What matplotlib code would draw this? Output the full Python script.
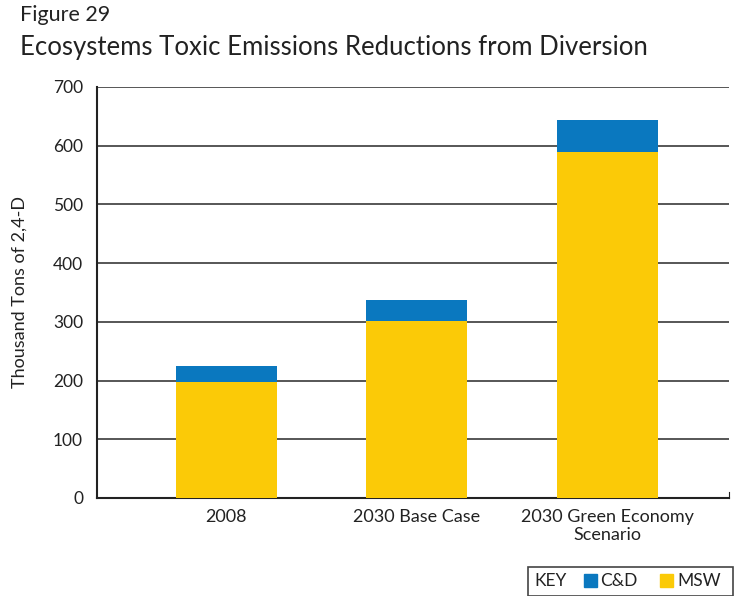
import matplotlib
matplotlib.use("Agg")
import matplotlib.pyplot as plt
from matplotlib.patches import Rectangle
import numpy as np

categories = ["2008", "2030 Base Case", "2030 Green Economy\nScenario"]
msw = [198, 302, 589]
cd = [27, 35, 55]
yticks = [0, 100, 200, 300, 400, 500, 600, 700]

BLUE = "#0A78BF"
YELLOW = "#FBCA07"
plt.rcParams['font.family'] = ['Lato', 'DejaVu Sans']

fig = plt.figure(figsize=(7.4, 5.96), dpi=100)
ax = fig.add_axes([97/740, 1-498/596, (729-97)/740, (498-87)/596])

x = np.arange(len(categories))
w = 0.53
ax.bar(x, msw, width=w, color=YELLOW, zorder=3)
ax.bar(x, cd, bottom=msw, width=w, color=BLUE, zorder=3)

ax.set_xlim(-0.68, 2.64)
ax.set_ylim(0, 700)
ax.set_yticks(yticks)
ax.set_yticklabels([str(t) for t in yticks], fontsize=12.5, color="#222222")
ax.set_xticks(x)
ax.set_xticklabels(categories, fontsize=13, color="#222222", linespacing=1.15)
ax.tick_params(axis='both', length=0, pad=8)
ax.tick_params(axis='y', pad=10)
for t in yticks[1:]:
    ax.axhline(t, color="#3a3a3a", lw=1.2, zorder=1)
ax.spines['top'].set_visible(False)
ax.spines['right'].set_bounds(0, 10)
ax.spines['right'].set_color("#222222")
ax.spines['left'].set_color("#222222")
ax.spines['bottom'].set_color("#222222")
ax.spines['left'].set_linewidth(1.5)
ax.spines['bottom'].set_linewidth(1.5)
ax.set_ylabel("Thousand Tons of 2,4-D", fontsize=13, color="#222222", labelpad=18)

fig.text(20/740, 1-15/596, "Figure 29", fontsize=15.5, color="#222222", va="center", ha="left")
fig.text(20/740, 1-47/596, "Ecosystems Toxic Emissions Reductions from Diversion", fontsize=18.5, color="#222222", va="center", ha="left")

# Legend key box
fig.patches.append(Rectangle((528/740, 0), (733-528)/740, (596-567)/596, transform=fig.transFigure,
                             fill=False, edgecolor="#444444", lw=1.2))
ly = 1-581/596
fig.text(534/740, ly, "KEY", fontsize=12.5, color="#222222", va="center", ha="left")
fig.patches.append(Rectangle((584/740, 1-587/596), 13/740, 13/596, transform=fig.transFigure, color=BLUE))
fig.text(600/740, ly, "C&D", fontsize=12.5, color="#222222", va="center", ha="left")
fig.patches.append(Rectangle((660/740, 1-587/596), 13/740, 13/596, transform=fig.transFigure, color=YELLOW))
fig.text(677/740, ly, "MSW", fontsize=12.5, color="#222222", va="center", ha="left")

fig.savefig("out.png", dpi=100)
